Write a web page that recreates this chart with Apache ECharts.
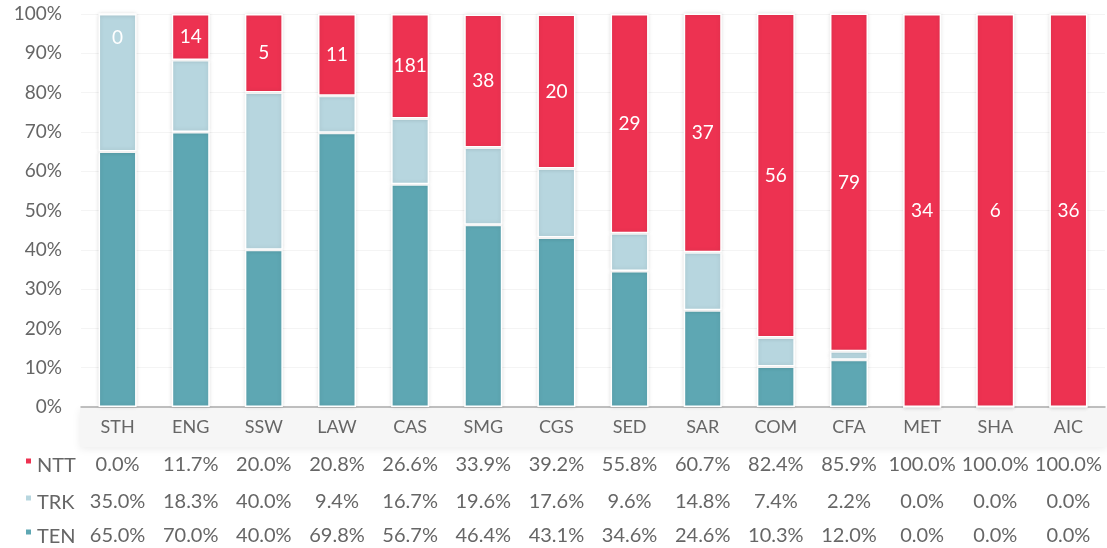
<!DOCTYPE html>
<html>
<head>
<meta charset="utf-8">
<script src="https://cdn.jsdelivr.net/npm/echarts@6/dist/echarts.min.js"></script>
<style>
  html, body { margin: 0; padding: 0; background: #fff; }
  #chart { width: 1107px; height: 548px; }
</style>
</head>
<body>
<div id="chart"></div>
<script>
var categories = ['STH', 'ENG', 'SSW', 'LAW', 'CAS', 'SMG', 'CGS', 'SED', 'SAR', 'COM', 'CFA', 'MET', 'SHA', 'AIC'];
var nttPct = [0.0, 11.7, 20.0, 20.8, 26.6, 33.9, 39.2, 55.8, 60.7, 82.4, 85.9, 100.0, 100.0, 100.0];
var trkPct = [35.0, 18.3, 40.0, 9.4, 16.7, 19.6, 17.6, 9.6, 14.8, 7.4, 2.2, 0.0, 0.0, 0.0];
var tenPct = [65.0, 70.0, 40.0, 69.8, 56.7, 46.4, 43.1, 34.6, 24.6, 10.3, 12.0, 0.0, 0.0, 0.0];
var nttCount = [0, 14, 5, 11, 181, 38, 20, 29, 37, 56, 79, 34, 6, 36];
var yTicks = [0, 10, 20, 30, 40, 50, 60, 70, 80, 90, 100];

var colors = { NTT: '#ED3251', TRK: '#B7D6DF', TEN: '#5EA7B3' };
var textColor = '#666';
var fontFamily = 'Lato, "Open Sans", sans-serif';

var chart = echarts.init(document.getElementById('chart'));

// rows of the data table under the axis, one hidden x axis per row
function tableAxis (values, offset) {
  return {
    type: 'category',
    data: categories,
    position: 'bottom',
    offset: offset,
    axisLine: { show: false },
    axisTick: { show: false },
    axisLabel: {
      interval: 0,
      margin: 11,
      color: textColor,
      fontSize: 20,
      fontFamily: fontFamily,
      formatter: function (v, i) { return values[i].toFixed(1) + '%'; }
    }
  };
}

// one legend per table row so the keys line up with the rows
function rowLegend (name, top) {
  return {
    left: 24,
    top: top,
    padding: 0,
    itemWidth: 7,
    itemHeight: 17,
    itemGap: 0,
    // square sits in the upper part of the key
    icon: 'path://M0,0L10,0L10,10L0,10Z M0,24L0.01,24',
    data: [name],
    textStyle: { color: textColor, fontSize: 20, fontFamily: fontFamily }
  };
}

var barStyle = function (c) {
  return {
    color: c,
    borderColor: '#fff',
    borderWidth: 1.5,
    shadowBlur: 4,
    shadowColor: 'rgba(0,0,0,0.12)'
  };
};

var option = {
  animation: false,
  textStyle: { fontFamily: fontFamily },
  grid: { left: 81, right: 2, top: 14, bottom: 141 },
  graphic: [{
    type: 'rect',
    left: 80,
    top: 408,
    shape: { width: 1027, height: 39 },
    style: { fill: '#f6f6f6', shadowBlur: 8, shadowColor: 'rgba(0,0,0,0.08)', shadowOffsetY: 2 },
    z: -1
  }],
  legend: [
    rowLegend('NTT', 456),
    rowLegend('TRK', 493),
    rowLegend('TEN', 527)
  ],
  xAxis: [
    {
      type: 'category',
      data: categories,
      axisLine: { lineStyle: { color: '#aaa', width: 1.5 } },
      axisTick: { show: false },
      axisLabel: { interval: 0, margin: 11, color: textColor, fontSize: 18, fontFamily: fontFamily }
    },
    tableAxis(nttPct, 37),
    tableAxis(trkPct, 74),
    tableAxis(tenPct, 108)
  ],
  yAxis: {
    type: 'value',
    min: yTicks[0],
    max: yTicks[yTicks.length - 1],
    interval: 10,
    axisLine: { show: false },
    axisTick: { show: false },
    splitLine: { lineStyle: { color: '#f4f4f4' } },
    axisLabel: { margin: 19, color: textColor, fontSize: 19, fontFamily: fontFamily, formatter: '{value}%' }
  },
  series: [
    {
      name: 'TEN',
      type: 'bar',
      stack: 'all',
      barWidth: '52%',
      data: tenPct,
      itemStyle: barStyle(colors.TEN)
    },
    {
      name: 'TRK',
      type: 'bar',
      stack: 'all',
      data: trkPct,
      itemStyle: barStyle(colors.TRK)
    },
    {
      name: 'NTT',
      type: 'bar',
      stack: 'all',
      data: nttPct.map(function (v, i) {
        var item = { value: v };
        if (v === 0) item.label = { offset: [0, 24] };
        return item;
      }),
      itemStyle: barStyle(colors.NTT),
      label: {
        show: true,
        position: 'inside',
        color: '#fff',
        fontSize: 19,
        fontFamily: fontFamily,
        formatter: function (p) { return nttCount[p.dataIndex]; }
      }
    }
  ]
};

chart.setOption(option);
</script>
</body>
</html>
